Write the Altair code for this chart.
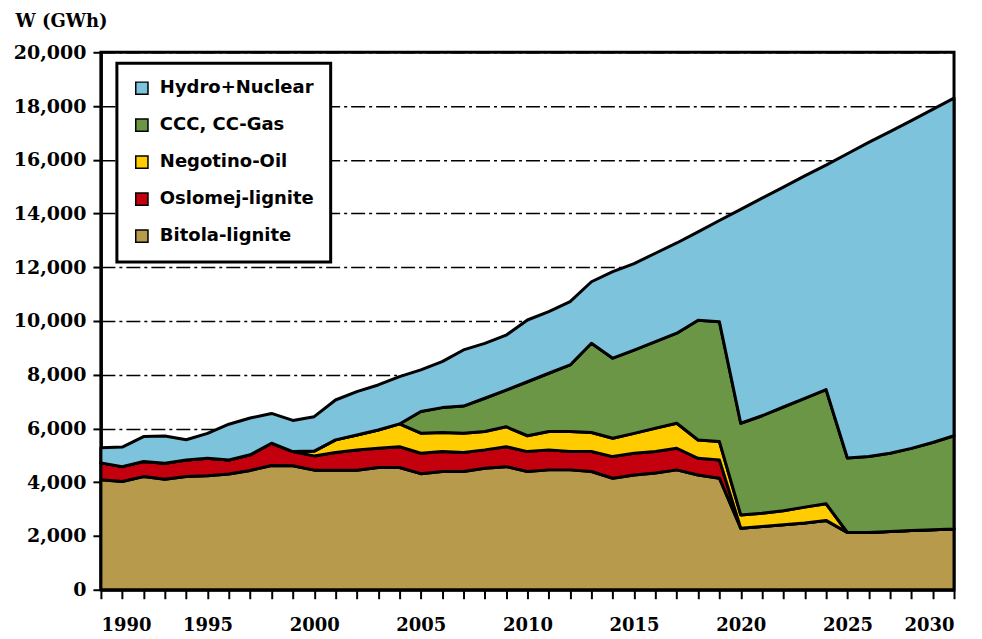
import altair as alt
import pandas as pd

years = list(range(1990, 2031))

bitola = [4090, 4030, 4210, 4110, 4210, 4240, 4310, 4440, 4620, 4610, 4450,
          4450, 4450, 4550, 4550, 4320, 4400, 4400, 4520, 4580, 4400,
          4460, 4460, 4400, 4150, 4270, 4340, 4460, 4270, 4150,
          2290, 2350, 2420, 2480, 2580,
          2130, 2130, 2170, 2200, 2230, 2260]

oslomej = [630, 550, 560, 600, 620, 650, 520, 580, 830, 530, 530,
           660, 750, 715, 770, 760, 740, 704, 684, 743, 740,
           744, 681, 743, 804, 806, 804, 805, 620, 681,
           0, 0, 0, 0, 0,
           0, 0, 0, 0, 0, 0]

negotino = [0, 0, 0, 0, 0, 0, 0, 0, 0, 0, 180,
            465, 560, 680, 850, 743, 707, 719, 681, 743, 590,
            681, 744, 707, 682, 743, 868, 930, 681, 681,
            495, 495, 520, 594, 620,
            0, 0, 0, 0, 0, 0]

gas = [0, 0, 0, 0, 0, 0, 0, 0, 0, 0, 0,
       0, 0, 0, 0, 810, 930, 1010, 1240, 1360, 2010,
       2170, 2480, 3320, 2980, 3100, 3220, 3350, 4460, 4460,
       3410, 3630, 3860, 4050, 4250,
       2770, 2830, 2910, 3060, 3250, 3470]

hydro = [560, 730, 930, 1010, 750, 930, 1330, 1370, 1110, 1160, 1280,
         1485, 1610, 1675, 1760, 1550, 1710, 2090, 2045, 2046, 2297,
         2296, 2357, 2290, 3218, 3219, 3290, 3359, 3284, 3767,
         7960, 8095, 8180, 8275, 8350,
         11325, 11685, 11970, 12195, 12395, 12566]

legend_names = ["Hydro+Nuclear", "CCC, CC-Gas", "Negotino-Oil", "Oslomej-lignite", "Bitola-lignite"]
colors = ["#7EC3DC", "#6A9645", "#FFCC00", "#C4000E", "#B79A4B"]
y_ticks = list(range(0, 20001, 2000))

series = [
    ("Bitola-lignite", bitola, 0),
    ("Oslomej-lignite", oslomej, 1),
    ("Negotino-Oil", negotino, 2),
    ("CCC, CC-Gas", gas, 3),
    ("Hydro+Nuclear", hydro, 4),
]

rows = []
for name, vals, ordr in series:
    for yr, v in zip(years, vals):
        rows.append({"year": yr, "value": v, "source": name, "ord": ordr})
df = pd.DataFrame(rows)

chart = alt.Chart(df).mark_area(
    stroke="black", strokeWidth=3, strokeJoin="round", opacity=1, interpolate="linear"
).encode(
    x=alt.X("year:Q",
            scale=alt.Scale(domain=[1990, 2030], nice=False, zero=False),
            axis=alt.Axis(values=years, format="d",
                          labelExpr="datum.value % 5 == 0 ? '' + datum.value : ''",
                          title=None, grid=False, labelPadding=18, tickSize=9,
                          labelFontSize=18, labelOverlap=False)),
    y=alt.Y("value:Q", stack="zero",
            scale=alt.Scale(domain=[0, 20000], nice=False),
            axis=alt.Axis(values=y_ticks, format=",d", grid=True,
                          gridColor="black", gridWidth=1.5, gridDash=[14, 4, 3, 4],
                          title="W (GWh)", titleAngle=0, titleX=-86, titleY=-26,
                          titleAlign="left", titleBaseline="alphabetic",
                          titleFont="DejaVu Serif", titleFontWeight="bold",
                          titleFontSize=18, titleColor="black",
                          labelPadding=7, labelFontSize=19)),
    color=alt.Color("source:N",
                    scale=alt.Scale(domain=legend_names, range=colors),
                    legend=alt.Legend(title=None, orient="none", legendX=16, legendY=11,
                                      symbolType="square", symbolSize=150,
                                      symbolStrokeColor="black", symbolStrokeWidth=1.5,
                                      symbolOpacity=1,
                                      labelFont="DejaVu Sans", labelFontWeight="bold",
                                      labelFontSize=18, labelColor="black",
                                      labelOffset=9, rowPadding=17, padding=16,
                                      fillColor="white", strokeColor="black")),
    order=alt.Order("ord:Q", sort="ascending"),
).properties(
    width=854, height=538,
    autosize=alt.AutoSizeParams(type="none"),
    padding={"left": 93, "top": 44, "right": 20, "bottom": 48},
).configure_view(
    stroke="black", strokeWidth=3
).configure_axis(
    domainColor="black", domainWidth=3, tickColor="black", tickWidth=2, tickSize=8,
    labelFont="DejaVu Serif", labelFontWeight="bold", labelColor="black"
).configure_legend(
    strokeWidth=3
)

chart.save("out.html", embed_options={"renderer": "svg", "actions": False})
